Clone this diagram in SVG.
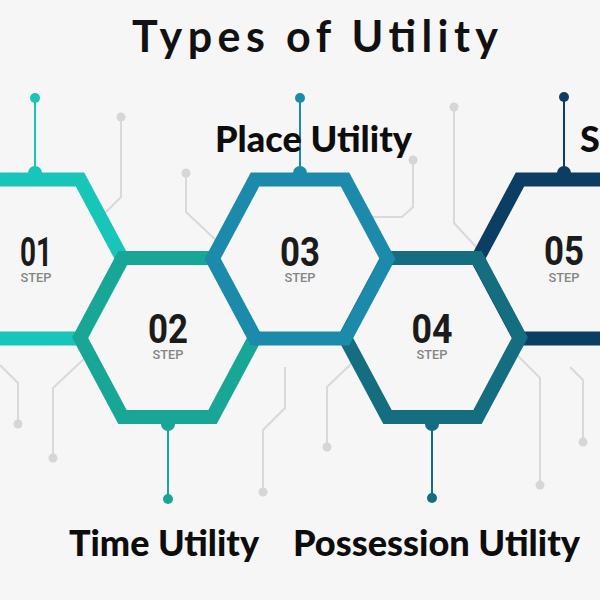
<svg xmlns="http://www.w3.org/2000/svg" width="600" height="600" viewBox="0 0 600 600">
<style>
.dec{fill:none;stroke:#d9d9d9;stroke-width:2}
.dd{fill:#d6d6d6}
.hex{fill:none;stroke-width:14;stroke-linejoin:miter}
.pin{stroke-width:2}
.num{font-family:Roboto,"DejaVu Sans",sans-serif;font-weight:700;font-size:40px;fill:#1b1b1b;text-anchor:middle}
.step{font-family:Roboto,"DejaVu Sans",sans-serif;font-weight:500;font-size:13.5px;fill:#858585;text-anchor:middle}
.lbl{font-family:Lato,"Liberation Sans",sans-serif;font-weight:900;font-size:36px;fill:#0d0d0d}
.title{font-family:Lato,"Liberation Sans",sans-serif;font-weight:700;font-size:43px;fill:#111111}
</style>
<rect width="600" height="600" fill="#f6f6f6"/>
<text class="title" x="132" y="52" textLength="366" lengthAdjust="spacing">Types of Utility</text>
<g id="decor">
<polyline class="dec" points="121,117 121,197 104,214"/><circle class="dd" cx="121" cy="117" r="4.5"/>
<polyline class="dec" points="186,173 186,212 219,243"/><circle class="dd" cx="186" cy="173" r="4.5"/>
<polyline class="dec" points="413,160 413,207 402,217 370,217"/><circle class="dd" cx="413" cy="160" r="4.5"/>
<polyline class="dec" points="454,107 454,223 479,250"/><circle class="dd" cx="454" cy="107" r="4.5"/>
<polyline class="dec" points="0,365 18,383 18,424"/><circle class="dd" cx="18" cy="424" r="4.5"/>
<polyline class="dec" points="86,357 53,388 53,458"/><circle class="dd" cx="53" cy="458" r="4.5"/>
<polyline class="dec" points="285,367 285,408 263,430 263,492"/><circle class="dd" cx="263" cy="492" r="4.5"/>
<polyline class="dec" points="353,362 327,387 327,447"/><circle class="dd" cx="327" cy="447" r="4.5"/>
<polyline class="dec" points="516,354 540,378 540,485"/><circle class="dd" cx="540" cy="485" r="4.5"/>
<polyline class="dec" points="570,367 583,380 583,442"/><circle class="dd" cx="583" cy="442" r="4.5"/>
</g>
<g id="connectors">
<g fill="#18c6b9" stroke="#18c6b9"><line class="pin" x1="35" y1="98" x2="35" y2="173"/><circle cx="35" cy="98" r="5" stroke="none"/><circle cx="35" cy="173" r="7" stroke="none"/></g>
<g fill="#18a696" stroke="#18a696"><line class="pin" x1="168" y1="424" x2="168" y2="499"/><circle cx="168" cy="499" r="5" stroke="none"/><circle cx="168" cy="424" r="7" stroke="none"/></g>
<g fill="#1b8aab" stroke="#1b8aab"><line class="pin" x1="300" y1="98" x2="300" y2="173"/><circle cx="300" cy="98" r="5" stroke="none"/><circle cx="300" cy="173" r="7" stroke="none"/></g>
<g fill="#146e7f" stroke="#146e7f"><line class="pin" x1="432" y1="424" x2="432" y2="498"/><circle cx="432" cy="498" r="5" stroke="none"/><circle cx="432" cy="424" r="7" stroke="none"/></g>
<g fill="#0c3d63" stroke="#0c3d63"><line class="pin" x1="564" y1="97" x2="564" y2="173"/><circle cx="564" cy="97" r="5" stroke="none"/><circle cx="564" cy="173" r="7" stroke="none"/></g>
</g>
<g id="node-1">
<path class="hex" stroke="#18c6b9" d="M-52.5,259 L-10,179.5 L80,179.5 L122.5,259 L80,338.5 L-10,338.5 Z"/>
<text class="num" x="36" y="266" textLength="32" lengthAdjust="spacingAndGlyphs">01</text>
<text class="step" x="36" y="282" textLength="31" lengthAdjust="spacingAndGlyphs">STEP</text>
</g>
<g id="node-2">
<path class="hex" stroke="#18a696" d="M80,337.5 L122.5,258 L212.5,258 L255,337.5 L212.5,417 L122.5,417 Z"/>
<text class="num" x="168" y="343" textLength="40" lengthAdjust="spacingAndGlyphs">02</text>
<text class="step" x="168" y="359" textLength="31" lengthAdjust="spacingAndGlyphs">STEP</text>
<text class="lbl" x="69" y="556" textLength="190" lengthAdjust="spacingAndGlyphs">Time Utility</text>
</g>
<g id="node-5">
<path class="hex" stroke="#0c3d63" d="M477.5,259 L520,179.5 L610,179.5 L652.5,259 L610,338.5 L520,338.5 Z"/>
<text class="num" x="564" y="265" textLength="40" lengthAdjust="spacingAndGlyphs">05</text>
<text class="step" x="564" y="282" textLength="31" lengthAdjust="spacingAndGlyphs">STEP</text>
<text class="lbl" x="580" y="152">S</text>
</g>
<g id="node-4">
<path class="hex" stroke="#146e7f" d="M345,337.5 L387.5,258 L477.5,258 L520,337.5 L477.5,417 L387.5,417 Z"/>
<text class="num" x="432" y="343" textLength="41" lengthAdjust="spacingAndGlyphs">04</text>
<text class="step" x="432" y="359" textLength="31" lengthAdjust="spacingAndGlyphs">STEP</text>
<text class="lbl" x="293" y="556" textLength="287" lengthAdjust="spacingAndGlyphs">Possession Utility</text>
</g>
<g id="node-3">
<path class="hex" stroke="#1b8aab" d="M212.5,259 L255,179.5 L345,179.5 L387.5,259 L345,338.5 L255,338.5 Z"/>
<text class="num" x="300" y="266" textLength="40" lengthAdjust="spacingAndGlyphs">03</text>
<text class="step" x="300" y="282" textLength="31" lengthAdjust="spacingAndGlyphs">STEP</text>
<text class="lbl" x="215" y="152" textLength="197" lengthAdjust="spacingAndGlyphs">Place Utility</text>
</g>
</svg>
